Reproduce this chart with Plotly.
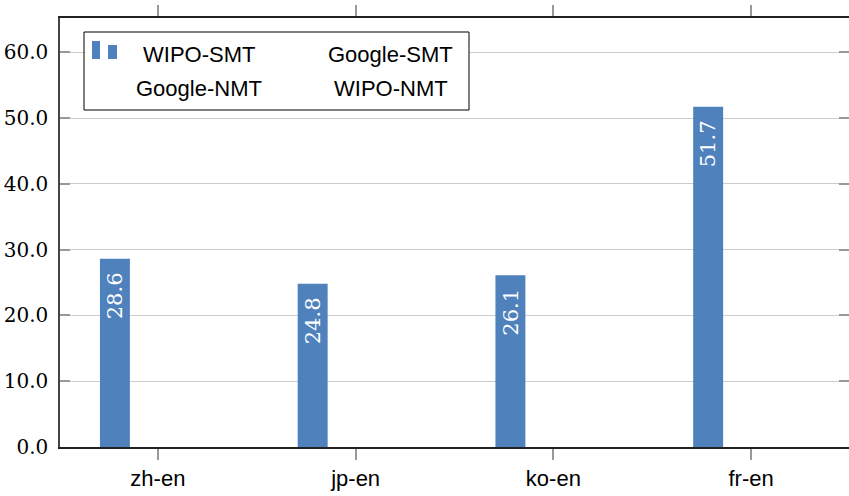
import plotly.graph_objects as go

# BLEU scores per language pair
pairs = ["zh-en", "jp-en", "ko-en", "fr-en"]
wipo_smt = [28.6, 24.8, 26.1, 51.7]
series_names = ["WIPO-SMT", "Google-SMT", "Google-NMT", "WIPO-NMT"]
y_ticks = [0, 10, 20, 30, 40, 50, 60]

BAR_BLUE = "#4f81bd"
W, H = 849, 496
L, R, T, B = 60, 0, 18, 49

fig = go.Figure()
fig.add_trace(go.Bar(
    x=pairs, y=wipo_smt, name=series_names[0],
    marker=dict(color=BAR_BLUE, line=dict(width=0)),
    width=0.1515, offset=-0.293,
    texttemplate="%{y:.1f}\u2002", textposition="inside",
    insidetextanchor="end", textangle=-90,
    insidetextfont=dict(family="DejaVu Serif", size=22, color="white"),
    cliponaxis=False, showlegend=False,
))

# hand-drawn legend box (pixel -> paper helpers)
pw, ph = W - L - R, H - T - B
def px(x):
    return (x - L) / pw
def py(y):
    return (H - B - y) / ph

shapes = [
    dict(type="rect", xref="paper", yref="paper", x0=px(84), x1=px(469),
         y0=py(110), y1=py(32), line=dict(color="black", width=1),
         fillcolor="white", layer="above"),
    dict(type="rect", xref="paper", yref="paper", x0=px(92), x1=px(100),
         y0=py(59), y1=py(41), line=dict(width=0), fillcolor=BAR_BLUE, layer="above"),
    dict(type="rect", xref="paper", yref="paper", x0=px(108), x1=px(117),
         y0=py(59), y1=py(45), line=dict(width=0), fillcolor=BAR_BLUE, layer="above"),
]
legend_pos = [(199, 54), (390, 54), (199, 88), (391, 88)]
annotations = [
    dict(xref="paper", yref="paper", x=px(cx), y=py(cy), text=name,
         showarrow=False, xanchor="center", yanchor="middle",
         font=dict(family="Liberation Sans", size=22, color="black"))
    for name, (cx, cy) in zip(series_names, legend_pos)
]

fig.update_layout(
    width=W, height=H,
    margin=dict(l=L, r=R, t=T, b=B, autoexpand=False),
    paper_bgcolor="white", plot_bgcolor="white",
    barmode="overlay",
    shapes=shapes, annotations=annotations,
    xaxis=dict(
        range=[-0.495, 3.495], tickvals=list(range(len(pairs))), ticktext=pairs,
        ticks="outside", ticklen=11, tickcolor="#999999", tickwidth=1.5,
        showline=True, linecolor="#222222", linewidth=1.5, mirror="ticks",
        showgrid=False, zeroline=False, automargin=False,
        tickfont=dict(family="Liberation Sans", size=22, color="black"),
    ),
    yaxis=dict(
        range=[0, 65.2], tickvals=y_ticks,
        ticktext=[f"{v:.1f}" for v in y_ticks],
        ticks="inside", ticklen=10, tickcolor="#999999", tickwidth=1.5,
        showline=True, linecolor="#444444", linewidth=1.5, mirror="ticks",
        showgrid=True, gridcolor="#cccccc", gridwidth=1, zeroline=False,
        ticklabelstandoff=6, automargin=False,
        tickfont=dict(family="DejaVu Serif", size=20, color="black"),
    ),
)

# keep the page from growing scrollbars around the fixed-size figure
fig.write_html(
    "out.html",
    post_script="document.documentElement.style.overflow='hidden';"
                "document.body.style.margin='0';document.body.style.overflow='hidden';",
)
